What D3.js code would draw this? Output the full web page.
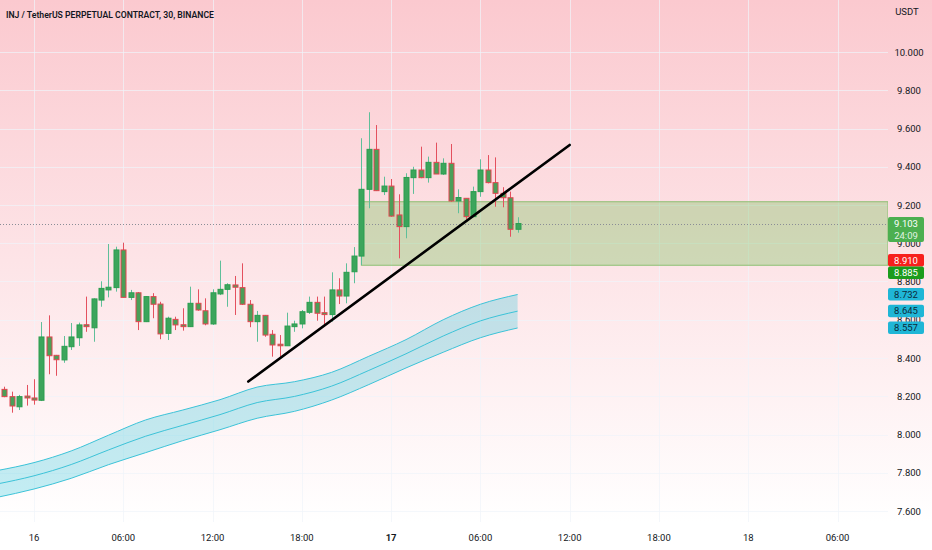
<!DOCTYPE html>
<html>
<head>
<meta charset="utf-8">
<script src="https://cdn.jsdelivr.net/npm/d3@7"></script>
<style>
  html, body { margin: 0; padding: 0; background: #fff; }
  svg { display: block; font-family: Roboto, "Noto Sans", sans-serif; }
</style>
</head>
<body>
<div id="chart"></div>
<script>
// INJ / USDT perpetual, 30m candles

const title = 'INJ / TetherUS PERPETUAL CONTRACT, 30, BINANCE';
const currency = 'USDT';
const firstCandle = new Date(2024, 0, 15, 22, 0); // first visible bar, then every 30 min

const openP = [8.236, 8.198, 8.145, 8.201, 8.191, 8.179, 8.510, 8.414, 8.390, 8.459,
    8.506, 8.574, 8.558, 8.703, 8.756, 8.768, 8.965, 8.717, 8.741, 8.590,
    8.721, 8.682, 8.529, 8.602, 8.574, 8.564, 8.686, 8.647, 8.578, 8.735,
    8.759, 8.782, 8.768, 8.681, 8.590, 8.623, 8.524, 8.472, 8.464, 8.564,
    8.578, 8.639, 8.691, 8.637, 8.627, 8.756, 8.724, 8.851, 8.933, 9.282,
    9.491, 9.270, 9.299, 9.148, 9.087, 9.343, 9.383, 9.343, 9.423, 9.362,
    9.418, 9.221, 9.235, 9.139, 9.270, 9.383, 9.317, 9.261, 9.238, 9.073];
const highP = [8.250, 8.224, 8.207, 8.259, 8.289, 8.588, 8.623, 8.416, 8.515, 8.583,
    8.585, 8.721, 8.712, 8.801, 8.996, 8.982, 9.003, 8.756, 8.745, 8.724,
    8.739, 8.694, 8.616, 8.616, 8.660, 8.773, 8.759, 8.712, 8.759, 8.909,
    8.791, 8.829, 8.895, 8.703, 8.646, 8.625, 8.546, 8.520, 8.637, 8.595,
    8.651, 8.721, 8.721, 8.721, 8.848, 8.817, 8.895, 8.980, 9.549, 9.685,
    9.618, 9.348, 9.336, 9.256, 9.366, 9.400, 9.505, 9.453, 9.526, 9.444,
    9.519, 9.282, 9.235, 9.296, 9.439, 9.461, 9.449, 9.293, 9.270, 9.136];
const lowP = [8.195, 8.114, 8.128, 8.151, 8.156, 8.175, 8.315, 8.307, 8.375, 8.442,
    8.463, 8.537, 8.485, 8.668, 8.717, 8.747, 8.717, 8.703, 8.546, 8.588,
    8.608, 8.498, 8.494, 8.546, 8.543, 8.562, 8.647, 8.571, 8.573, 8.729,
    8.668, 8.625, 8.677, 8.561, 8.485, 8.511, 8.407, 8.407, 8.464, 8.537,
    8.555, 8.630, 8.595, 8.567, 8.590, 8.682, 8.686, 8.791, 8.886, 9.183,
    9.273, 9.252, 9.139, 8.921, 9.026, 9.258, 9.340, 9.317, 9.362, 9.357,
    9.217, 9.157, 9.125, 9.136, 9.243, 9.313, 9.191, 9.188, 9.034, 9.055];
const closeP = [8.198, 8.149, 8.198, 8.191, 8.180, 8.510, 8.412, 8.391, 8.461, 8.510,
    8.573, 8.564, 8.709, 8.764, 8.770, 8.965, 8.717, 8.741, 8.590, 8.721,
    8.681, 8.526, 8.608, 8.573, 8.564, 8.686, 8.651, 8.578, 8.741, 8.759,
    8.783, 8.770, 8.681, 8.590, 8.623, 8.520, 8.468, 8.464, 8.567, 8.578,
    8.642, 8.691, 8.634, 8.627, 8.756, 8.724, 8.848, 8.933, 9.282, 9.491,
    9.275, 9.299, 9.142, 9.087, 9.344, 9.383, 9.343, 9.423, 9.362, 9.418,
    9.221, 9.239, 9.139, 9.270, 9.383, 9.317, 9.261, 9.238, 9.073, 9.103];

// channel (bar offsets from firstCandle)
const bandBar = [-1, 4, 9, 14, 19, 24, 29, 34, 39, 44, 49, 54, 59, 64, 69];
const bandUpper = [7.811, 7.853, 7.914, 7.996, 8.076, 8.128, 8.182, 8.248, 8.276, 8.325, 8.409, 8.496, 8.600, 8.681, 8.732];
const bandMid = [7.741, 7.784, 7.843, 7.919, 7.991, 8.048, 8.104, 8.167, 8.199, 8.253, 8.335, 8.422, 8.515, 8.594, 8.645];
const bandLower = [7.671, 7.715, 7.771, 7.842, 7.905, 7.968, 8.025, 8.085, 8.121, 8.180, 8.261, 8.348, 8.430, 8.506, 8.557];

// hand drawn trend line and zone
const trendBar = [32.8, 76];
const trendPrice = [8.277, 9.514];
const zoneStartBar = 48;
const zonePrice = [8.885, 9.217];

const priceTicks = [7.6, 7.8, 8.0, 8.2, 8.4, 8.6, 8.8, 9.0, 9.2, 9.4, 9.6, 9.8, 10.0];
const labelValues = [9.103, 8.910, 8.885, 8.732, 8.645, 8.557];
const labelKinds = ['last', 'red', 'zone', 'band', 'band', 'band'];
const countdown = '24:09';

// ---- layout
const W = 932, H = 550;
const plotW = 888, plotH = 522;
const pxPerMin = 7.44 / 30;
const dayStart = new Date(2024, 0, 16, 0, 0);
const tickX = 34;

const x = d3.scaleTime()
    .domain([new Date(+dayStart - tickX / pxPerMin * 6e4),
             new Date(+dayStart + (plotW - tickX) / pxPerMin * 6e4)])
    .range([0, plotW]);
const y = d3.scaleLinear().domain([7.6, 10.0]).range([511, 52]);
const barTime = b => new Date(+firstCandle + b * 30 * 6e4);

const candles = openP.map((o, i) => ({
    t: barTime(i), o, h: highP[i], l: lowP[i], c: closeP[i]
}));
const band = bandBar.map((b, i) => ({ t: barTime(b), u: bandUpper[i], m: bandMid[i], l: bandLower[i] }));

const svg = d3.select('#chart').append('svg')
    .attr('width', W).attr('height', H);

const defs = svg.append('defs');
const grad = defs.append('linearGradient')
    .attr('id', 'bg').attr('x1', 0).attr('y1', 0).attr('x2', 0).attr('y2', 1);
grad.append('stop').attr('offset', '0%').attr('stop-color', '#fbc9cf');
grad.append('stop').attr('offset', '100%').attr('stop-color', '#ffffff');
defs.append('clipPath').attr('id', 'plotClip')
    .append('rect').attr('width', plotW).attr('height', plotH);

svg.append('rect').attr('width', W).attr('height', H).attr('fill', '#fff');
svg.append('rect').attr('width', W).attr('height', plotH).attr('fill', 'url(#bg)');

const plot = svg.append('g').attr('clip-path', 'url(#plotClip)');

// grid
const timeTicks = x.ticks(d3.timeHour.every(6));
plot.append('g').selectAll('line').data(priceTicks).enter().append('line')
    .attr('x1', 0).attr('x2', plotW)
    .attr('y1', d => Math.round(y(d)) + 0.5).attr('y2', d => Math.round(y(d)) + 0.5)
    .attr('stroke', 'rgba(240,243,250,0.7)');
plot.append('g').selectAll('line').data(timeTicks).enter().append('line')
    .attr('x1', d => Math.round(x(d)) + 0.5).attr('x2', d => Math.round(x(d)) + 0.5)
    .attr('y1', 0).attr('y2', plotH)
    .attr('stroke', 'rgba(240,243,250,0.7)');

// zone
plot.append('rect')
    .attr('x', x(barTime(zoneStartBar)))
    .attr('y', y(zonePrice[1]))
    .attr('width', plotW - x(barTime(zoneStartBar)))
    .attr('height', y(zonePrice[0]) - y(zonePrice[1]))
    .attr('fill', 'rgba(100,190,70,0.3)')
    .attr('stroke', '#8cbf72').attr('stroke-width', 1);

// channel
plot.append('path').datum(band)
    .attr('d', d3.area().x(d => x(d.t)).y0(d => y(d.l)).y1(d => y(d.u)).curve(d3.curveMonotoneX))
    .attr('fill', 'rgba(38,198,218,0.28)');
['u', 'm', 'l'].forEach(k => {
    plot.append('path').datum(band)
        .attr('d', d3.line().x(d => x(d.t)).y(d => y(d[k])).curve(d3.curveMonotoneX))
        .attr('fill', 'none').attr('stroke', '#3cc3d8').attr('stroke-width', 1);
});

// last price dotted line
const lastP = closeP[closeP.length - 1];
plot.append('line')
    .attr('x1', 0).attr('x2', plotW)
    .attr('y1', Math.round(y(lastP)) + 0.5).attr('y2', Math.round(y(lastP)) + 0.5)
    .attr('stroke', '#8a8d96').attr('stroke-dasharray', '1,2');

// candles
const cg = plot.append('g').selectAll('g').data(candles).enter().append('g');
cg.append('line')
    .attr('x1', d => Math.round(x(d.t)) + 0.5).attr('x2', d => Math.round(x(d.t)) + 0.5)
    .attr('y1', d => y(d.h)).attr('y2', d => y(d.l))
    .attr('stroke', d => d.c >= d.o ? '#5fbf9a' : '#e4505e');
cg.append('rect')
    .attr('x', d => Math.round(x(d.t)) - 2)
    .attr('width', 5)
    .attr('y', d => y(Math.max(d.o, d.c)))
    .attr('height', d => Math.max(1.5, Math.abs(y(d.o) - y(d.c))))
    .attr('fill', d => d.c >= d.o ? '#3ca55c' : '#4b9f58')
    .attr('stroke', d => d.c >= d.o ? '#2a9d4f' : '#e0454f')
    .attr('stroke-width', 1);

// trend line
plot.append('line')
    .attr('x1', x(barTime(trendBar[0]))).attr('y1', y(trendPrice[0]))
    .attr('x2', x(barTime(trendBar[1]))).attr('y2', y(trendPrice[1]))
    .attr('stroke', '#000').attr('stroke-width', 2.6).attr('stroke-linecap', 'round');

// title
svg.append('text')
    .attr('x', 6).attr('y', 17.5)
    .attr('font-size', '9.5px').attr('font-weight', 600).attr('fill', '#131722')
    .attr('textLength', 208).attr('lengthAdjust', 'spacingAndGlyphs')
    .text(title);

// price axis
svg.append('text').attr('x', 907).attr('y', 15).attr('text-anchor', 'middle')
    .attr('font-size', '9.5px').attr('fill', '#131722').text(currency);
svg.append('g').selectAll('text').data(priceTicks).enter().append('text')
    .attr('x', 909).attr('y', d => y(d) + 3.5).attr('text-anchor', 'middle')
    .attr('font-size', '9.5px').attr('fill', '#131722')
    .text(d => d.toFixed(3));

// time axis
svg.append('g').selectAll('text').data(timeTicks).enter().append('text')
    .attr('x', d => x(d)).attr('y', 541).attr('text-anchor', 'middle')
    .attr('font-size', '9.5px').attr('fill', '#131722')
    .attr('font-weight', d => d.getHours() === 0 && d.getDate() === 17 ? 700 : 400)
    .text(d => d.getHours() === 0 ? d3.timeFormat('%-d')(d) : d3.timeFormat('%H:%M')(d));

// price labels on the scale
const kindStyle = {
    last: { bg: '#4caf50', fg: '#ffffff' },
    red: { bg: '#f7201c', fg: '#ffffff' },
    zone: { bg: '#1c9c1c', fg: '#ffffff' },
    band: { bg: '#1fb6d6', fg: '#0d2a3a' }
};
let prevBottom = -Infinity;
labelValues.forEach((v, i) => {
    const kind = labelKinds[i];
    const h = kind === 'last' ? 25 : 12.5;
    const top = Math.max(y(v) - 6.5, prevBottom);
    prevBottom = top + h;
    const g = svg.append('g');
    g.append('rect').attr('x', 888).attr('y', top).attr('width', 36).attr('height', h)
        .attr('rx', 2).attr('fill', kindStyle[kind].bg);
    g.append('text').attr('x', 906).attr('y', top + 9.8).attr('text-anchor', 'middle')
        .attr('font-size', '9.5px').attr('fill', kindStyle[kind].fg).text(v.toFixed(3));
    if (kind === 'last') {
        g.append('text').attr('x', 906).attr('y', top + 21.5).attr('text-anchor', 'middle')
            .attr('font-size', '9.5px').attr('fill', 'rgba(255,255,255,0.85)').text(countdown);
    }
});
</script>
</body>
</html>
